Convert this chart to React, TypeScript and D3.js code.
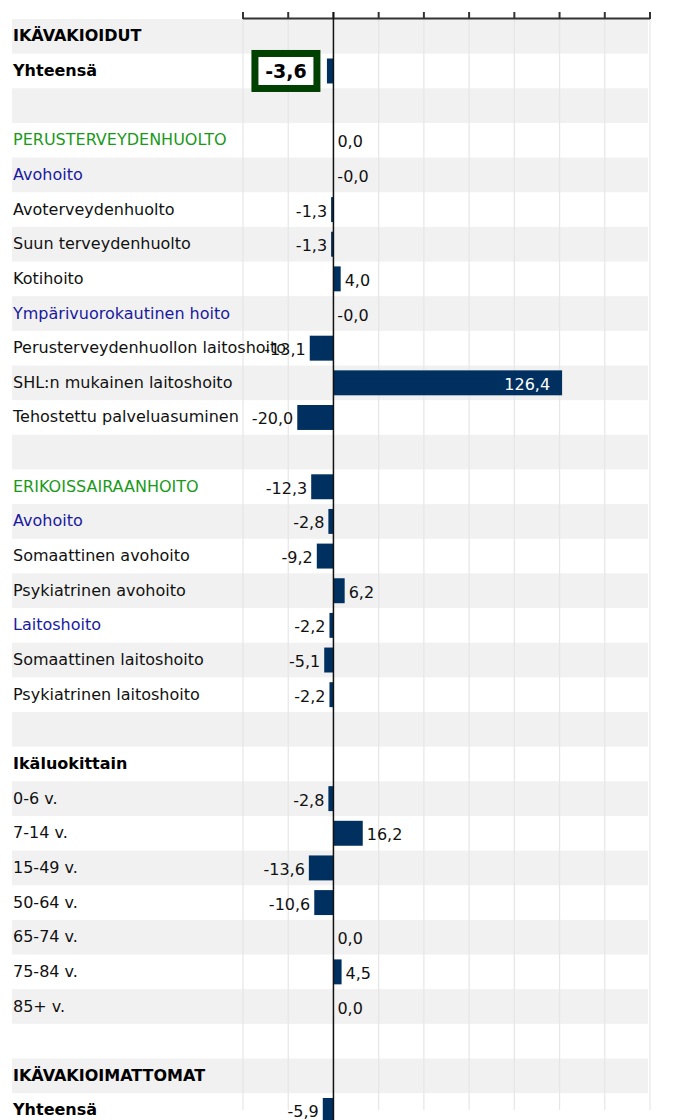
import React from "react";
import * as d3 from "d3";

// rivit ylhäältä alas
const labels = [
  "IKÄVAKIOIDUT",
  "Yhteensä",
  "",
  "PERUSTERVEYDENHUOLTO",
  "Avohoito",
  "Avoterveydenhuolto",
  "Suun terveydenhuolto",
  "Kotihoito",
  "Ympärivuorokautinen hoito",
  "Perusterveydenhuollon laitoshoito",
  "SHL:n mukainen laitoshoito",
  "Tehostettu palveluasuminen",
  "",
  "ERIKOISSAIRAANHOITO",
  "Avohoito",
  "Somaattinen avohoito",
  "Psykiatrinen avohoito",
  "Laitoshoito",
  "Somaattinen laitoshoito",
  "Psykiatrinen laitoshoito",
  "",
  "Ikäluokittain",
  "0-6 v.",
  "7-14 v.",
  "15-49 v.",
  "50-64 v.",
  "65-74 v.",
  "75-84 v.",
  "85+ v.",
  "",
  "IKÄVAKIOIMATTOMAT",
  "Yhteensä",
];

// muutos-% (null = ei palkkia)
const values: (number | null)[] = [
  null, -3.6, null,
  0.0, -0.04, -1.3, -1.3, 4.0, -0.04, -13.1, 126.4, -20.0,
  null,
  -12.3, -2.8, -9.2, 6.2, -2.2, -5.1, -2.2,
  null,
  null, -2.8, 16.2, -13.6, -10.6, 0.0, 4.5, 0.0,
  null,
  null, -5.9,
];

// rivin tyyli: t = lihavoitu otsikko, g = vihreä, b = sininen, n = normaali
const kinds = [
  "t", "t", "n",
  "g", "b", "n", "n", "n", "b", "n", "n", "n",
  "n",
  "g", "b", "n", "n", "b", "n", "n",
  "n",
  "t", "n", "n", "n", "n", "n", "n", "n",
  "n",
  "t", "t",
];

const highlightRow = 1;
const xTicks = [-50, -25, 0, 25, 50, 75, 100, 125, 150, 175];

const colors: Record<string, string> = { t: "#000", g: "#1a9a1a", b: "#1a1aa0", n: "#111" };
const font = "Verdana, 'DejaVu Sans', sans-serif";
const fs = 16;

const fmt = (v: number) => v.toFixed(1).replace(".", ",");

export default function App() {
  const x = d3.scaleLinear().domain([-50, 175]).range([243, 650]);
  const y = d3
    .scaleBand<number>()
    .domain(d3.range(labels.length))
    .range([19, 19 + labels.length * 34.65]);
  const bar = d3
    .scaleBand<number>()
    .domain(d3.range(labels.length))
    .range(y.range() as [number, number])
    .paddingInner(0.28)
    .paddingOuter(0.14);
  const x0 = x(0);

  return (
    <div style={{ position: "absolute", left: 0, top: 0 }}>
      <svg width={682} height={1120} style={{ display: "block", fontFamily: font }}>
        {/* taustaraidat */}
        {labels.map((_, i) =>
          i % 2 === 0 ? (
            <rect key={"bg" + i} x={12} y={y(i)} width={636} height={y.step()} fill="#f1f1f1" />
          ) : null
        )}

        {/* pystyviivat */}
        {xTicks.map((t) => (
          <line key={"g" + t} x1={x(t)} x2={x(t)} y1={18} y2={1110} stroke="#e6e6e6" strokeWidth={1.2} />
        ))}

        {/* akseli ylhäällä */}
        <line x1={x(-50)} x2={x(175)} y1={18.5} y2={18.5} stroke="#333" strokeWidth={2} />
        {xTicks.map((t) => (
          <line key={"t" + t} x1={x(t)} x2={x(t)} y1={12} y2={19} stroke="#333" strokeWidth={2} />
        ))}

        {/* kategoriat */}
        {labels.map((l, i) => (
          <text
            key={"l" + i}
            x={13}
            y={y(i)! + y.step() / 2 + 5}
            fontSize={fs}
            fontWeight={kinds[i] === "t" ? "bold" : "normal"}
            fill={colors[kinds[i]]}
          >
            {l}
          </text>
        ))}

        {/* palkit */}
        {values.map((v, i) =>
          v === null ? null : (
            <rect
              key={"b" + i}
              x={Math.min(x(v), x0)}
              y={bar(i)}
              width={Math.abs(x(v) - x0)}
              height={bar.bandwidth()}
              fill="#003060"
            />
          )
        )}

        {/* arvot */}
        {values.map((v, i) => {
          if (v === null) return null;
          const cy = y(i)! + y.step() / 2;
          if (i === highlightRow) {
            const right = x(v) - 6.5;
            return (
              <g key={"v" + i}>
                <rect x={right - 65.5} y={cy - 17.5} width={62} height={35} fill="#fff" stroke="#004000" strokeWidth={7} />
                <text x={right - 34.5} y={cy + 7} textAnchor="middle" fontSize={19} fontWeight="bold" fill="#000">
                  {fmt(v)}
                </text>
              </g>
            );
          }
          const w = Math.abs(x(v) - x0);
          if (w > 100) {
            return (
              <text key={"v" + i} x={x(v) - 12} y={cy + 7} textAnchor="end" fontSize={fs} fill="#fff">
                {fmt(v)}
              </text>
            );
          }
          const neg = Math.round(v * 10) < 0;
          return (
            <text
              key={"v" + i}
              x={neg ? x(v) - 4 : x(v) + 4}
              y={cy + 7}
              textAnchor={neg ? "end" : "start"}
              fontSize={fs}
              fill="#111"
            >
              {fmt(v)}
            </text>
          );
        })}

        {/* nollaviiva */}
        <line x1={x0} x2={x0} y1={12} y2={1120} stroke="#111" strokeWidth={1.5} />
      </svg>
    </div>
  );
}
